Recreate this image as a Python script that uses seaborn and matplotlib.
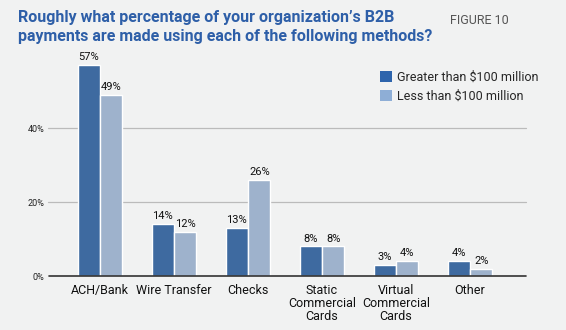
import matplotlib
matplotlib.use("Agg")
import matplotlib.pyplot as plt
import seaborn as sns
import pandas as pd
from matplotlib.patches import Patch

categories = ["ACH/Bank", "Wire Transfer", "Checks", "Static\nCommercial\nCards",
              "Virtual\nCommercial\nCards", "Other"]
greater = [57, 14, 13, 8, 3, 4]
less = [49, 12, 26, 8, 4, 2]
series_names = ["Greater than $100 million", "Less than $100 million"]
yticks = [0, 20, 40]

df = pd.DataFrame({
    "cat": categories * 2,
    "val": greater + less,
    "grp": [series_names[0]] * len(categories) + [series_names[1]] * len(categories),
})

bg = "#f1f2f2"
dark = "#3e6aa0"
light = "#9eb2cc"

sns.set_theme(style="white")
plt.rcParams["font.family"] = ["Roboto", "DejaVu Sans"]

fig = plt.figure(figsize=(5.66, 3.30), dpi=100, facecolor=bg)
ax = fig.add_axes([53 / 566, 1 - 276 / 330, (526 - 53) / 566, (276 - 50) / 330])
ax.set_facecolor(bg)

sns.barplot(data=df, x="cat", y="val", hue="grp", order=categories,
            hue_order=series_names, palette=[dark, light], width=0.62, gap=0.04,
            ax=ax, legend=False, saturation=1)

ax.set_ylim(0, 61.1)
ax.set_xlim(-0.635, 5.757)
ax.set_yticks(yticks)
ax.set_yticklabels([f"{t}%" for t in yticks], fontsize=6.5, color="#222222")
ax.tick_params(axis="y", length=0, pad=6)
ax.tick_params(axis="x", length=0, pad=6)
ax.set_xticks(range(len(categories)))
ax.set_xticklabels(categories, fontsize=9, color="#111111", linespacing=1.0, va="top")
ax.set_xlabel("")
ax.set_ylabel("")
for t in [20, 40]:
    ax.axhline(t, color="#bbbbbb", lw=0.9, zorder=0, xmin=-0.01, clip_on=False)
ax.plot([-0.008, 1], [0, 0], transform=ax.transAxes, color="#333333", lw=1.2, clip_on=False)
for s in ax.spines.values():
    s.set_visible(False)

for cont in ax.containers:
    ax.bar_label(cont, labels=[f"{v:g}%" for v in cont.datavalues], fontsize=8,
                 padding=2, color="#111111")

handles = [Patch(facecolor="#2d64ac", edgecolor="none"), Patch(facecolor="#8eaed6", edgecolor="none")]
leg = ax.legend(handles, series_names, loc="upper left", bbox_to_anchor=(0.68, 0.93),
                frameon=False, fontsize=9, handlelength=1.0, handleheight=1.0,
                handletextpad=0.4, labelspacing=0.5, borderaxespad=0)

fig.text(18 / 566, 1 - 27 / 330, "Roughly what percentage of your organization\u2019s B2B\npayments are made using each of the following methods?",
         fontsize=11.5, fontweight="bold", color="#2e5fa8", va="center", ha="left",
         linespacing=1.3)
fig.text(450 / 566, 1 - 20 / 330, "FIGURE 10", fontsize=9, color="#555555",
         va="center", ha="left")

fig.savefig("out.png", dpi=100, facecolor=bg)
